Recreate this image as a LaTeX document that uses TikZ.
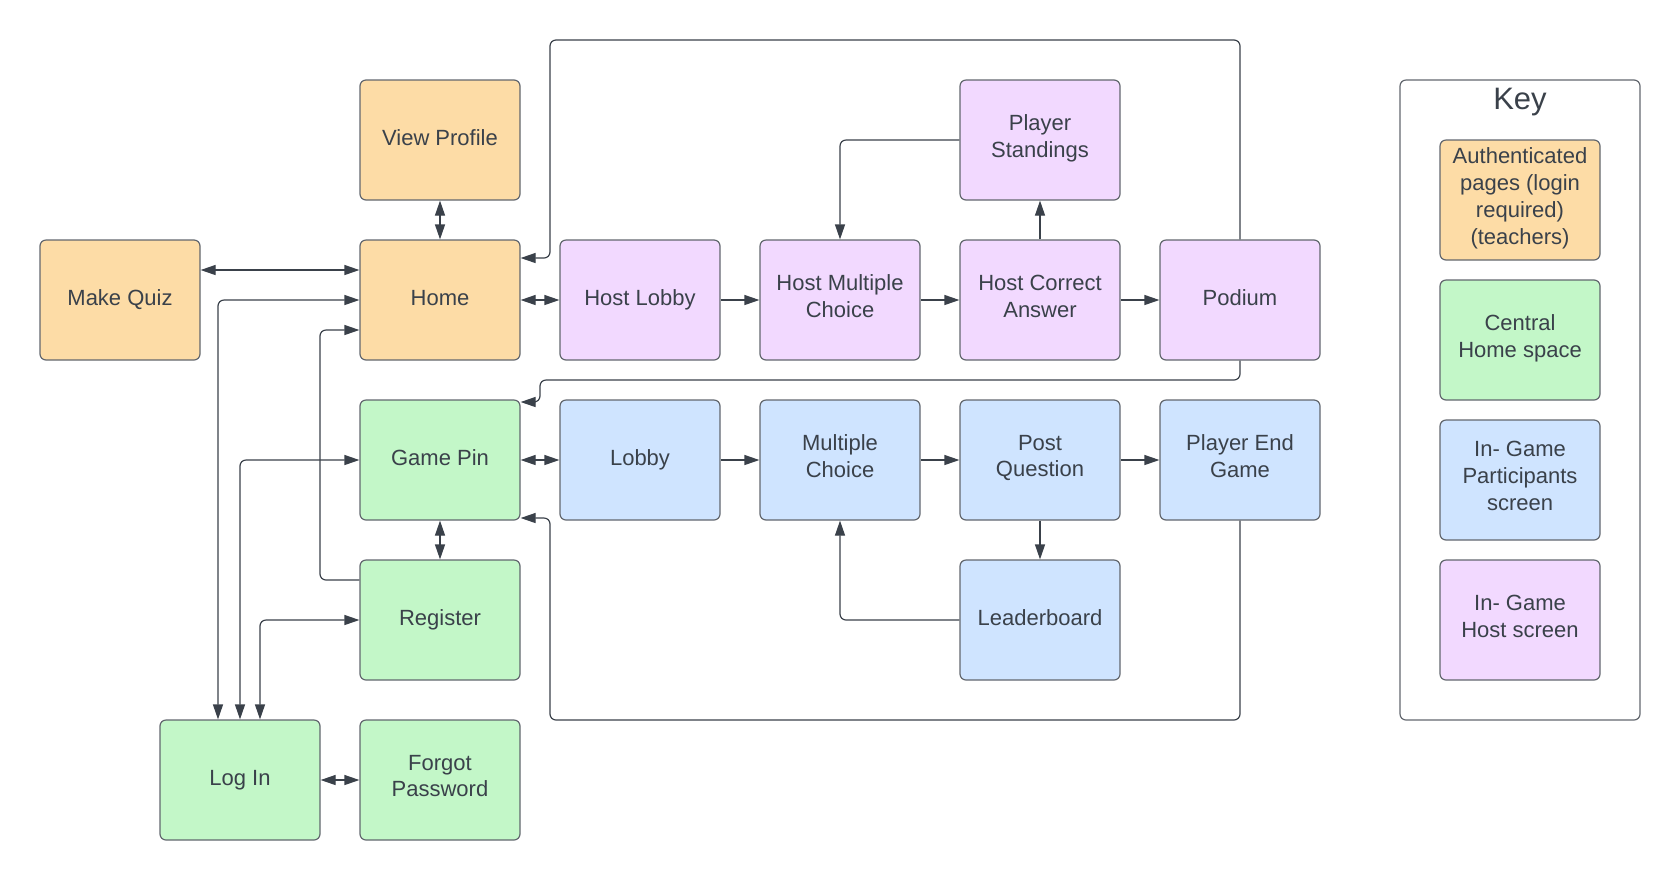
\documentclass[tikz,border=0pt]{standalone}
\usepackage{fontspec}
\setmainfont{Liberation Sans}
\usetikzlibrary{arrows.meta,positioning,calc}

\definecolor{authorange}{HTML}{FDDCA6}
\definecolor{homegreen}{HTML}{C3F7C8}
\definecolor{playerblue}{HTML}{CFE4FF}
\definecolor{hostpurple}{HTML}{F2D9FF}
\definecolor{inkgray}{HTML}{3A414A}
\definecolor{edgegray}{HTML}{62676E}

\begin{document}
\begin{tikzpicture}[x=10pt,y=-10pt,
  page/.style={draw=edgegray,line width=0.6pt,rounded corners=3pt,
    minimum width=80pt,minimum height=60pt,inner sep=2pt,align=center,
    font=\fontsize{11}{13.4}\selectfont,text=inkgray,
    execute at begin node=\strut,execute at end node=\strut},
  authpage/.style={page,fill=authorange},
  homepage/.style={page,fill=homegreen},
  playerpage/.style={page,fill=playerblue},
  hostpage/.style={page,fill=hostpurple},
  link/.style={draw=inkgray,line width=0.6pt,rounded corners=3pt,
    -{Triangle[length=7.5pt,width=5pt]}},
  twoway/.style={link,{Triangle[length=7.5pt,width=5pt]}-{Triangle[length=7.5pt,width=5pt]}}]

  \useasboundingbox (0,0) rectangle (84,44);

  % teacher pages
  \node[authpage] (mq) at (6,15) {Make Quiz};
  \node[authpage] (vp) at (22,7) {View Profile};
  \node[authpage] (home) at (22,15) {Home};

  % host screens
  \node[hostpage] (hl) at (32,15) {Host Lobby};
  \node[hostpage] (hmc) at (42,15) {Host Multiple\\Choice};
  \node[hostpage] (hca) at (52,15) {Host Correct\\Answer};
  \node[hostpage] (pod) at (62,15) {Podium};
  \node[hostpage] (ps) at (52,7) {Player\\Standings};

  % participant screens
  \node[homepage] (gp) at (22,23) {Game Pin};
  \node[playerpage] (lobby) at (32,23) {Lobby};
  \node[playerpage] (mc) at (42,23) {Multiple\\Choice};
  \node[playerpage] (pq) at (52,23) {Post\\Question};
  \node[playerpage] (peg) at (62,23) {Player End\\Game};
  \node[playerpage] (lb) at (52,31) {Leaderboard};

  % account pages
  \node[homepage] (reg) at (22,31) {Register};
  \node[homepage] (login) at (12,39) {Log In};
  \node[homepage] (fp) at (22,39) {Forgot\\Password};

  % key
  \node[draw=edgegray,line width=0.6pt,rounded corners=3pt,
    minimum width=120pt,minimum height=320pt] (key) at (76,20) {};
  \node[text=inkgray,font=\fontsize{15.5}{18}\selectfont] (keytitle) at (76,5.1) {Key};
  \node[authpage] (k1) at (76,10) {Authenticated\\pages (login\\required)\\(teachers)};
  \node[homepage] (k2) at (76,17) {Central\\Home space};
  \node[playerpage] (k3) at (76,24) {In- Game\\Participants\\screen};
  \node[hostpage] (k4) at (76,31) {In- Game\\Host screen};

  % teacher links
  \draw[twoway] ([yshift=15pt]mq.east) -- ([yshift=15pt]home.west);
  \draw[twoway] (vp) -- (home);
  \draw[twoway] (home) -- (hl);
  \draw[twoway] ([xshift=-11pt]login.north) |- (home.west);
  \draw[link] ([yshift=20pt]reg.west) -- (16,29) |- ([yshift=-15pt]home.west);

  % host flow
  \draw[link] (hl) -- (hmc);
  \draw[link] (hmc) -- (hca);
  \draw[link] (hca) -- (pod);
  \draw[link] (hca) -- (ps);
  \draw[link] (ps.west) -| (hmc.north);
  \draw[link] (pod.north) |- (27.5,2) |- ([yshift=21pt]home.east);
  \draw[link] (pod.south) |- (27,19) |- ([yshift=29pt]gp.east);

  % participant flow
  \draw[twoway] (gp) -- (lobby);
  \draw[link] (lobby) -- (mc);
  \draw[link] (mc) -- (pq);
  \draw[link] (pq) -- (peg);
  \draw[link] (pq) -- (lb);
  \draw[link] (lb.west) -| (mc.south);
  \draw[link] (peg.south) |- (27.5,36) |- ([yshift=-29pt]gp.east);

  % account links
  \draw[twoway] (gp) -- (reg);
  \draw[twoway] (gp.west) -| (login.north);
  \draw[twoway] (reg.west) -| ([xshift=10pt]login.north);
  \draw[twoway] (login) -- (fp);
\end{tikzpicture}
\end{document}
